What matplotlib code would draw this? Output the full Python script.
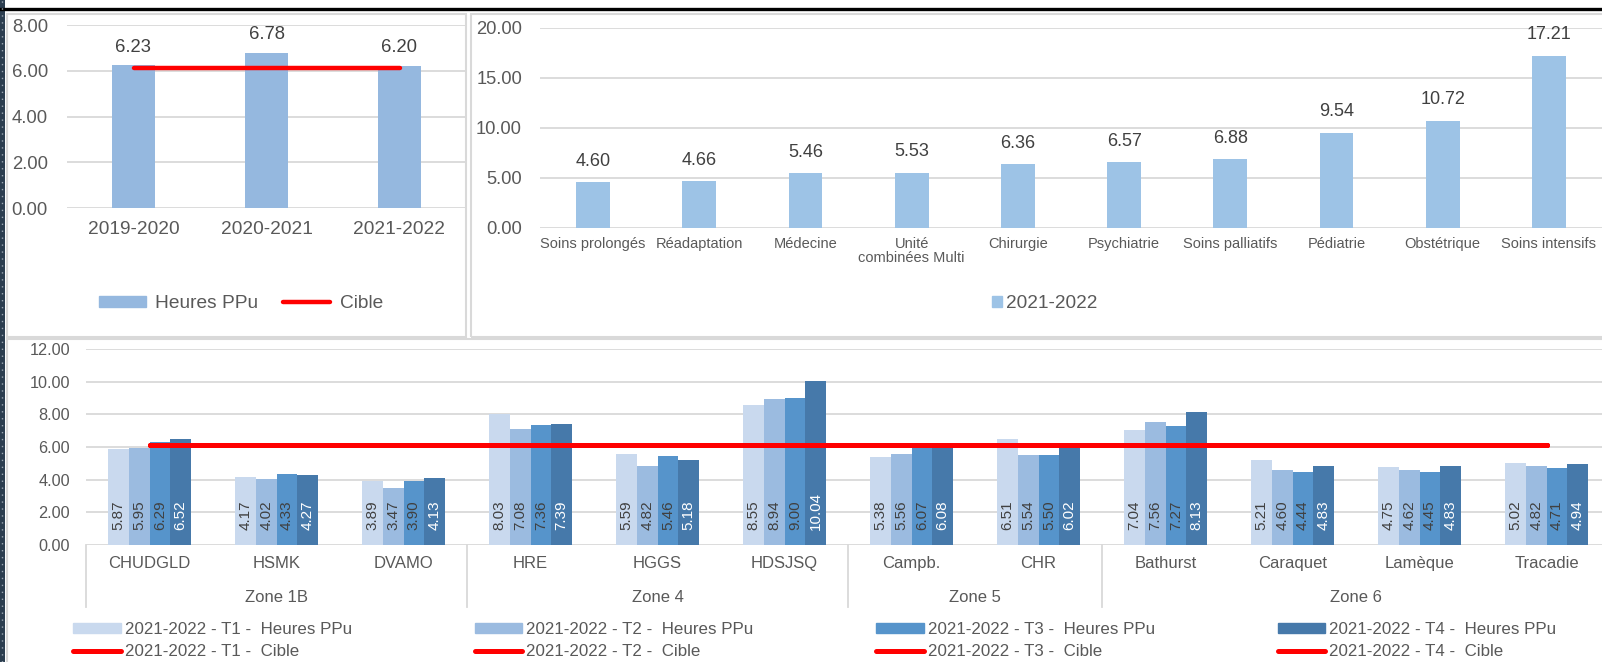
import numpy as np
import matplotlib
matplotlib.use('Agg')
import matplotlib.pyplot as plt
from matplotlib.patches import Rectangle, Patch
from matplotlib.lines import Line2D
from matplotlib.transforms import blended_transform_factory

plt.rcParams['font.family'] = ['Liberation Sans', 'DejaVu Sans']

# Heures PPu par année
annees = ['2019-2020', '2020-2021', '2021-2022']
heures_annee = [6.23, 6.78, 6.20]
cible = 6.1

# Heures PPu par type d'unité, 2021-2022
unites = ['Soins prolongés', 'Réadaptation', 'Médecine', 'Unité\ncombinées Multi', 'Chirurgie',
          'Psychiatrie', 'Soins palliatifs', 'Pédiatrie', 'Obstétrique', 'Soins intensifs']
heures_unite = [4.60, 4.66, 5.46, 5.53, 6.36, 6.57, 6.88, 9.54, 10.72, 17.21]

# Heures PPu par établissement et par trimestre
etablissements = ['CHUDGLD', 'HSMK', 'DVAMO', 'HRE', 'HGGS', 'HDSJSQ', 'Campb.', 'CHR',
                  'Bathurst', 'Caraquet', 'Lamèque', 'Tracadie']
zones = ['Zone 1B', 'Zone 4', 'Zone 5', 'Zone 6']
zone_nb = [3, 3, 2, 4]
t1 = [5.87, 4.17, 3.89, 8.03, 5.59, 8.55, 5.38, 6.51, 7.04, 5.21, 4.75, 5.02]
t2 = [5.95, 4.02, 3.47, 7.08, 4.82, 8.94, 5.56, 5.54, 7.56, 4.60, 4.62, 4.82]
t3 = [6.29, 4.33, 3.90, 7.36, 5.46, 9.00, 6.07, 5.50, 7.27, 4.44, 4.45, 4.71]
t4 = [6.52, 4.27, 4.13, 7.39, 5.18, 10.04, 6.08, 6.02, 8.13, 4.83, 4.83, 4.94]
trimestres = ['T1', 'T2', 'T3', 'T4']

W, H = 1602, 662
GRID = '#d9d9d9'
TXT = '#595959'
LAB = '#404040'


def fx(px):
    return px / W


def fy(py):
    return 1 - py / H


def box(l, t, r, b):
    return [fx(l), fy(b), fx(r) - fx(l), fy(t) - fy(b)]


def style(ax, fs, ypad, xpad):
    for s in ax.spines.values():
        s.set_visible(False)
    ax.yaxis.grid(True, color=GRID, lw=1.3)
    ax.set_axisbelow(True)
    ax.tick_params(axis='y', length=0, pad=ypad, labelsize=fs, labelcolor=TXT)
    ax.tick_params(axis='x', length=0, pad=xpad, labelcolor=TXT)


fig = plt.figure(figsize=(W / 100, H / 100), dpi=100)

# cadres des trois graphiques
for l, t, r, b in [(7, 14, 466, 337), (471, 14, 1608, 337), (7, 339, 1608, 668)]:
    fig.add_artist(Rectangle((fx(l), fy(b)), fx(r) - fx(l), fy(t) - fy(b),
                             transform=fig.transFigure, fill=False, ec=GRID, lw=1.5))
fig.add_artist(Line2D([0, 1], [fy(8.5), fy(8.5)], transform=fig.transFigure, color='black', lw=2.4))
fig.add_artist(Rectangle((0, 0), fx(5), 1, transform=fig.transFigure, color='#2c3e50', lw=0))
fig.add_artist(Line2D([fx(2), fx(2)], [0, 1], transform=fig.transFigure, color='#9aa6b2',
                      lw=1, ls=(0, (1, 4))))

# --- par année ---
ax1 = fig.add_axes(box(67, 25, 466, 208))
x1 = np.arange(len(annees))
b1 = ax1.bar(x1, heures_annee, width=0.32, color='#95b8df', zorder=2)
ax1.plot(x1, [cible] * len(x1), color='#ff0000', lw=3.2, solid_capstyle='round', zorder=3)
ax1.set_xlim(-0.5, len(annees) - 0.5)
ax1.set_ylim(0, 8)
ax1.set_yticks(np.arange(0, 8.1, 2))
ax1.set_yticklabels([f'{v:.2f}' for v in np.arange(0, 8.1, 2)])
ax1.set_xticks(x1)
ax1.set_xticklabels(annees, fontsize=13.8)
style(ax1, 13.3, 13.7, 9)
ax1.bar_label(b1, labels=[f'{v:.2f}' for v in heures_annee], padding=7, fontsize=13.3, color=LAB)
ax1.legend([Patch(color='#95b8df'), Line2D([], [], color='#ff0000', lw=3.2, solid_capstyle='round')],
           ['Heures PPu', 'Cible'], loc='center', bbox_to_anchor=(fx(241), fy(304)),
           bbox_transform=fig.transFigure, ncol=2, frameon=False, fontsize=13.8,
           handlelength=2.45, handleheight=0.52, handletextpad=0.5, columnspacing=1.3,
           labelcolor=TXT)

# --- par type d'unité ---
ax2 = fig.add_axes(box(540, 28, 1602, 228))
x2 = np.arange(len(unites))
b2 = ax2.bar(x2, heures_unite, width=0.317, color='#9dc3e6', zorder=2)
ax2.set_xlim(-0.5, len(unites) - 0.5)
ax2.set_ylim(0, 20)
ax2.set_yticks(np.arange(0, 20.1, 5))
ax2.set_yticklabels([f'{v:.2f}' for v in np.arange(0, 20.1, 5)])
ax2.set_xticks(x2)
ax2.set_xticklabels(unites, fontsize=10.5, linespacing=1.0)
style(ax2, 13.2, 13, 6.5)
ax2.bar_label(b2, labels=[f'{v:.2f}' for v in heures_unite], padding=9, fontsize=13, color=LAB)
ax2.legend([Patch(color='#9dc3e6')], ['2021-2022'], loc='center',
           bbox_to_anchor=(fx(1045), fy(304)), bbox_transform=fig.transFigure, frameon=False,
           fontsize=13.7, handlelength=0.52, handleheight=0.52, handletextpad=0.2, labelcolor=TXT)

# --- par établissement ---
ax3 = fig.add_axes(box(86, 349, 1602, 545))
x3 = np.arange(len(etablissements))
series = [t1, t2, t3, t4]
couleurs = ['#c9d9ee', '#9bbbe0', '#5694cb', '#4679aa']
coul_txt = [LAB, LAB, LAB, 'white']
w = 0.163
handles, labels = [], []
for i, (vals, c) in enumerate(zip(series, couleurs)):
    pos = x3 + (i - 1.5) * w
    ax3.bar(pos, vals, width=w, color=c, zorder=2)
    for p, v in zip(pos, vals):
        ax3.annotate(f'{v:.2f}', xy=(p, 0), xytext=(0, 10.5), textcoords='offset points',
                     rotation=90, rotation_mode='anchor', ha='left', va='center',
                     fontsize=11, color=coul_txt[i], zorder=4)
    handles.append(Patch(color=c))
    labels.append(f'2021-2022 - {trimestres[i]} -  Heures PPu')
    handles.append(Line2D([], [], color='#ff0000', lw=3.6, solid_capstyle='round'))
    labels.append(f'2021-2022 - {trimestres[i]} -  Cible')
    ax3.plot(x3, [cible] * len(x3), color='#ff0000', lw=3.6, solid_capstyle='round', zorder=5)

ax3.set_xlim(-0.5, -0.5 + 1516 / 127)
ax3.set_ylim(0, 12)
ax3.set_yticks(np.arange(0, 12.1, 2))
ax3.set_yticklabels([f'{v:.2f}' for v in np.arange(0, 12.1, 2)])
ax3.set_xticks(x3)
ax3.set_xticklabels(etablissements, fontsize=12)
style(ax3, 11.7, 11.5, 8)

# regroupement par zone
tr = blended_transform_factory(ax3.transData, fig.transFigure)
debut = 0
for z, n in zip(zones, zone_nb):
    ax3.plot([debut - 0.5, debut - 0.5], [fy(545), fy(607)], transform=tr, color=GRID,
             lw=1.3, clip_on=False)
    ax3.text(debut + (n - 1) / 2, fy(602), z, transform=tr, ha='center', va='baseline',
             fontsize=12, color=TXT)
    debut += n

ax3.legend(handles, labels, loc='center', bbox_to_anchor=(fx(815), fy(640.5)),
           bbox_transform=fig.transFigure, ncol=4, frameon=False, fontsize=12.2,
           handlelength=2.8, handleheight=0.55, handletextpad=0.24, columnspacing=7.25,
           labelspacing=0.45, labelcolor=TXT, borderpad=0)

fig.savefig('out.png', dpi=100)
